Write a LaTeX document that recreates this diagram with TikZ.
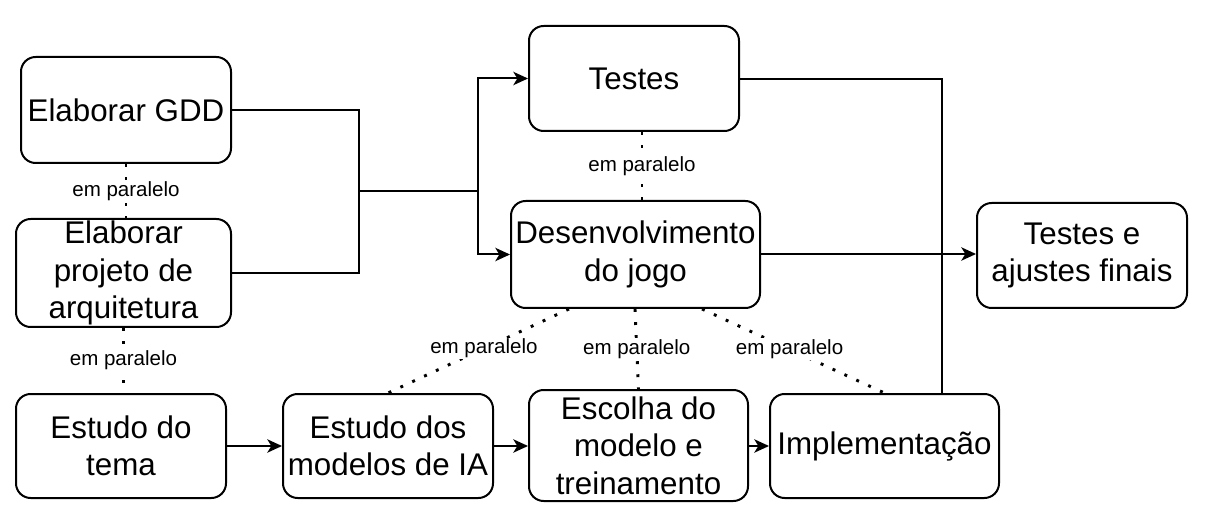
\documentclass[tikz,border=0pt]{standalone}
\usepackage{fontspec}
\setmainfont{Liberation Sans}
\usetikzlibrary{arrows.meta,calc}
\tikzset{
  box/.style={draw, line width=1.5pt, rounded corners=11pt, inner sep=0pt, align=center,
    font=\fontsize{23.5pt}{28pt}\selectfont},
  conn/.style={line width=1.5pt},
  arr/.style={line width=1.5pt, -{Stealth[length=11pt,width=10pt,inset=3pt]}},
  dotline/.style={line width=2.2pt, dash pattern=on 2.2pt off 7.6pt},
  par/.style={fill=white, inner sep=1pt, font=\fontsize{15.4pt}{18pt}\selectfont}
}
\begin{document}
\begin{tikzpicture}[x=0.75pt,y=-0.75pt]
\path[use as bounding box] (0,0) rectangle (1208,531);
% boxes
\node[box, minimum width=157.5pt, minimum height=79.5pt] (gdd) at (126,110) {Elaborar GDD};
\node[box, minimum width=161.25pt, minimum height=81pt] (proj) at (123.5,273) {Elaborar\\projeto de\\arquitetura};
\node[box, minimum width=157.5pt, minimum height=78pt] (tema) at (121,446) {Estudo do\\tema};
\node[box, minimum width=157.5pt, minimum height=78pt] (mod) at (388,446) {Estudo dos\\modelos de IA};
\node[box, minimum width=164.25pt, minimum height=83.25pt] (esc) at (638.5,445.5) {Escolha do\\modelo e\\treinamento};
\node[box, minimum width=171.75pt, minimum height=78pt] (impl) at (884.5,446) {Implementação};
\node[box, minimum width=157.5pt, minimum height=78.75pt] (test) at (634,78.5) {Testes};
\node[box, minimum width=186.75pt, minimum height=80.25pt] (dev) at (635.5,254.5) {Desenvolvimento\\do jogo};
\node[box, minimum width=157.5pt, minimum height=78.75pt] (fin) at (1082,255.5) {Testes e\\ajustes finais};
% connectors
\coordinate (j1) at (359,191);
\coordinate (j2) at (478,191);
\draw[conn] (gdd.east) -| (j1);
\draw[conn] (proj.east) -| (j1);
\draw[conn] (j1) -- (j2);
\draw[arr] (j2) |- (test.west);
\draw[arr] (j2) |- (dev.west);
\coordinate (tc) at (942,79);
\draw[conn] (test.east |- tc) -- (tc) -- (tc |- impl.north);
\draw[arr] (dev.east |- 0,254) -- (fin.west |- 0,254);
\draw[arr] (tema.east) -- (mod.west);
\draw[arr] (mod.east) -- (esc.west |- mod.east);
\draw[arr] (esc.east |- impl.west) -- (impl.west);
% dotted parallels
\draw[dotline] (gdd.south) -- (gdd.south |- proj.north) node[midway, par] {em paralelo};
\draw[dotline] (proj.south) -- (proj.south |- tema.north) node[midway, par] {em paralelo};
\coordinate (td) at ($(test.south)+(8,0)$);
\draw[dotline] (td) -- (td |- dev.north) node[midway, par] {em paralelo};
\draw[dotline] ($(dev.south west)+(59,0)$) -- (mod.north) node[pos=0.47, par] {em paralelo};
\draw[dotline] ($(dev.south west)+(125,0)$) -- (esc.north) node[midway, par] {em paralelo};
\draw[dotline] ($(dev.south west)+(192,0)$) -- (impl.north) node[pos=0.48, par] {em paralelo};
\end{tikzpicture}
\end{document}
